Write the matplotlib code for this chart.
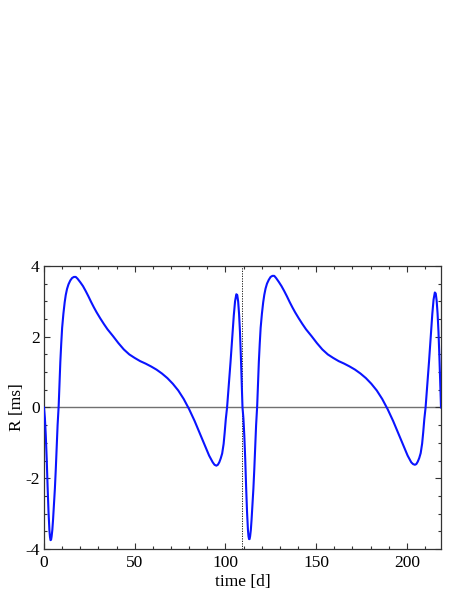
import matplotlib
matplotlib.use("Agg")
import matplotlib.pyplot as plt
from matplotlib.ticker import MultipleLocator

plt.rcParams["font.family"] = ["Liberation Serif", "DejaVu Serif"]
plt.rcParams["axes.unicode_minus"] = False

# first cycle
time1 = [0.0, 0.5, 1.0, 1.5, 2.0, 2.5, 3.0, 3.3, 3.6, 3.9, 4.2, 4.6, 5.0, 5.5,
         6.0, 6.5, 7.0, 7.5, 8.1, 8.6, 9.0, 9.5, 10.0, 10.7, 11.4, 12.0, 12.7,
         13.5, 14.5, 15.5, 16.5, 17.5, 18.5, 20.0, 21.5, 23.0, 24.5, 26.0, 27.5,
         29.0, 31.0, 33.0, 35.0, 38.0, 41.0, 44.0, 47.0, 50.0, 53.0, 56.0, 59.0,
         62.0, 65.0, 68.0, 71.0, 74.0, 77.0, 80.0, 83.0, 86.0, 89.0, 91.0, 93.0,
         94.0, 95.0, 95.8, 96.6, 97.4, 98.2, 99.0, 99.6, 100.2, 100.9, 101.8,
         102.8, 103.7, 104.6, 105.3, 106.0, 106.5, 107.0, 107.5, 108.0, 108.5,
         109.0, 109.4]
r1 = [0.00, -0.30, -0.80, -1.45, -2.25, -2.95, -3.48, -3.66, -3.75, -3.74,
      -3.65, -3.46, -3.17, -2.75, -2.30, -1.75, -1.10, -0.50, 0.05, 0.75, 1.28,
      1.80, 2.25, 2.65, 2.97, 3.18, 3.35, 3.48, 3.59, 3.66, 3.69, 3.69, 3.64,
      3.54, 3.43, 3.29, 3.14, 2.98, 2.83, 2.69, 2.52, 2.36, 2.21, 2.02, 1.82,
      1.64, 1.50, 1.40, 1.31, 1.24, 1.16, 1.07, 0.96, 0.83, 0.67, 0.48, 0.24,
      -0.05, -0.38, -0.75, -1.12, -1.36, -1.55, -1.62, -1.645, -1.62, -1.55,
      -1.44, -1.30, -1.03, -0.70, -0.33, 0.00, 0.60, 1.28, 1.95, 2.60, 3.00,
      3.20, 3.18, 3.00, 2.65, 2.15, 1.45, 0.65, 0.00]

# second cycle
time2 = [109.9, 110.4, 110.9, 111.4, 111.9, 112.4, 112.7, 113.0, 113.3, 113.6,
         114.0, 114.4, 114.9, 115.4, 115.9, 116.4, 116.9, 117.5, 118.0, 118.4,
         118.9, 119.4, 120.1, 120.8, 121.4, 122.1, 122.9, 123.9, 124.9, 125.9,
         126.9, 127.9, 129.4, 130.9, 132.4, 133.9, 135.4, 136.9, 138.4, 140.4,
         142.4, 144.4, 147.4, 150.4, 153.4, 156.4, 159.4, 162.4, 165.4, 168.4,
         171.4, 174.4, 177.4, 180.4, 183.4, 186.4, 189.4, 192.4, 195.4, 198.4,
         200.4, 202.4, 203.4, 204.4, 205.2, 206.0, 206.8, 207.6, 208.4, 209.0,
         209.6, 210.3, 211.2, 212.2, 213.1, 214.0, 214.7, 215.4, 215.9, 216.4,
         216.9, 217.4, 217.9, 218.4, 218.8]
r2 = [-0.30, -0.80, -1.45, -2.25, -2.95, -3.46, -3.64, -3.72, -3.72, -3.64,
      -3.46, -3.17, -2.75, -2.30, -1.75, -1.10, -0.50, 0.05, 0.75, 1.28, 1.80,
      2.25, 2.65, 2.97, 3.18, 3.36, 3.50, 3.61, 3.69, 3.72, 3.72, 3.66, 3.55,
      3.43, 3.29, 3.14, 2.98, 2.83, 2.69, 2.52, 2.36, 2.21, 2.02, 1.82, 1.64,
      1.50, 1.40, 1.31, 1.24, 1.16, 1.07, 0.96, 0.83, 0.67, 0.48, 0.24, -0.05,
      -0.38, -0.75, -1.12, -1.36, -1.55, -1.60, -1.62, -1.60, -1.53, -1.43,
      -1.29, -1.02, -0.70, -0.33, 0.00, 0.62, 1.30, 1.98, 2.64, 3.05, 3.25,
      3.22, 3.02, 2.66, 2.15, 1.45, 0.65, 0.00]

t_mark = 109.4

fig = plt.figure(figsize=(4.63, 5.99), dpi=100)
ax = fig.add_axes([0.095, 0.0835, 0.8575, 0.4725])

ax.axhline(0, color="#707070", lw=1.0, zorder=1)
ax.axvline(t_mark, color="black", lw=0.6, ls=(0, (1.5, 1.5)), zorder=1)
ax.plot(time1 + time2, r1 + r2, color="#0a14ff", lw=1.5, zorder=3)

ax.set_xlim(0, 218.8)
ax.set_ylim(-4, 4)
ax.xaxis.set_major_locator(MultipleLocator(50))
ax.xaxis.set_minor_locator(MultipleLocator(10))
ax.yaxis.set_major_locator(MultipleLocator(2))
ax.yaxis.set_minor_locator(MultipleLocator(0.5))
ax.tick_params(which="both", direction="in", top=True, right=True,
               color="#333333", labelsize=12.5)
ax.tick_params(which="major", length=4, width=0.8)
ax.tick_params(which="minor", length=2.5, width=0.8)
ax.tick_params(axis="x", pad=4)
ax.tick_params(axis="y", pad=3)
for s in ax.spines.values():
    s.set_color("#333333")
    s.set_linewidth(0.9)

ax.set_xlabel("time [d]", fontsize=12.5)
ax.set_ylabel("R [ms]", fontsize=12.5)
ax.xaxis.set_label_coords(0.5, -0.088)
ax.yaxis.set_label_coords(-0.048, 0.5)

fig.savefig("out.png", dpi=100)
